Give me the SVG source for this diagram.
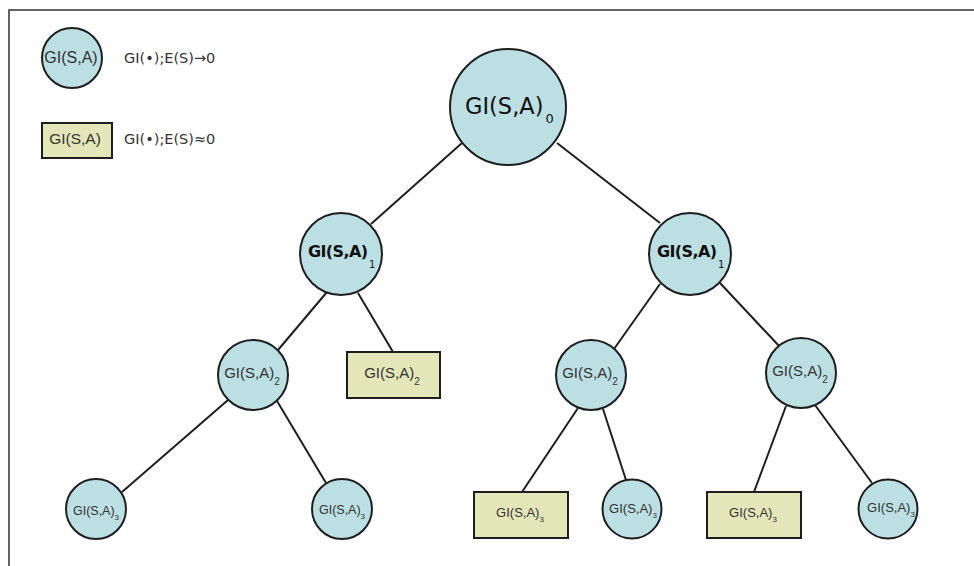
<svg xmlns="http://www.w3.org/2000/svg" width="974" height="566" viewBox="0 0 974 566">
<style>
.c{fill:#bcdfe3;stroke:#1e1e1e;stroke-width:2}
.r{fill:#e3e6b8;stroke:#1e1e1e;stroke-width:2}
.e{stroke:#1e1e1e;stroke-width:2;fill:none}
.t{font-family:"Liberation Sans",Arial,sans-serif;fill:#333;text-anchor:middle}
.d{font-family:"DejaVu Sans",sans-serif;fill:#111}
.l{font-family:"DejaVu Sans",sans-serif;fill:#333;font-size:14.5px}
</style>
<rect width="974" height="566" fill="#fff"/>
<path d="M9,566 V10 H974" stroke="#333" stroke-width="1.5" fill="none"/>
<g id="connectors" class="e">
<line x1="462" y1="143" x2="371" y2="224"/>
<line x1="557" y1="143" x2="660" y2="223"/>
<line x1="327" y1="292" x2="278" y2="350"/>
<line x1="358" y1="293" x2="393" y2="352"/>
<line x1="228" y1="400" x2="122" y2="492"/>
<line x1="277" y1="401" x2="326" y2="483"/>
<line x1="660" y1="284" x2="614" y2="349"/>
<line x1="720" y1="283" x2="780" y2="347"/>
<line x1="578" y1="408" x2="522" y2="492"/>
<line x1="603" y1="409" x2="626" y2="480"/>
<line x1="786" y1="406" x2="754" y2="492"/>
<line x1="815" y1="405" x2="872" y2="483"/>
</g>
<g id="legend-circle">
<circle class="c" cx="72" cy="58" r="30"/>
<text class="t" x="71" y="63" font-size="16">GI(S,A)</text>
<text class="l" x="124" y="63">GI(•);E(S)→0</text>
</g>
<g id="legend-rect">
<rect class="r" x="42" y="123" width="70" height="35"/>
<text class="t" x="75" y="144" font-size="15.5">GI(S,A)</text>
<text class="l" x="124" y="144">GI(•);E(S)≈0</text>
</g>
<g id="n0">
<circle class="c" cx="508" cy="107" r="58"/>
<text class="d" x="465" y="114" font-size="22.5">GI(S,A)<tspan font-size="13" dx="2" dy="9">0</tspan></text>
</g>
<g id="n1a">
<circle class="c" cx="341" cy="254" r="41"/>
<text class="d" x="308" y="257" font-size="16" font-weight="bold" textLength="60">GI(S,A)</text>
<text class="d" x="369" y="268" font-size="10">1</text>
</g>
<g id="n1b">
<circle class="c" cx="690" cy="254" r="41"/>
<text class="d" x="657" y="257" font-size="16" font-weight="bold" textLength="60">GI(S,A)</text>
<text class="d" x="718" y="268" font-size="10">1</text>
</g>
<g id="n2a">
<circle class="c" cx="253" cy="375" r="35"/>
<text class="t" x="252" y="378" font-size="15">GI(S,A)<tspan font-size="10" dy="7">2</tspan></text>
</g>
<g id="n2b">
<rect class="r" x="347" y="352" width="93" height="46"/>
<text class="t" x="392" y="378" font-size="15">GI(S,A)<tspan font-size="10" dy="7">2</tspan></text>
</g>
<g id="n2c">
<circle class="c" cx="591" cy="375" r="35"/>
<text class="t" x="590" y="378" font-size="15">GI(S,A)<tspan font-size="10" dy="7">2</tspan></text>
</g>
<g id="n2d">
<circle class="c" cx="801" cy="373" r="35"/>
<text class="t" x="800" y="376" font-size="15">GI(S,A)<tspan font-size="10" dy="7">2</tspan></text>
</g>
<g id="n3a">
<circle class="c" cx="96" cy="509" r="30"/>
<text class="t" x="96" y="515" font-size="12.5">GI(S,A)<tspan font-size="8" dy="5">3</tspan></text>
</g>
<g id="n3b">
<circle class="c" cx="342" cy="509" r="30"/>
<text class="t" x="342" y="514" font-size="12.5">GI(S,A)<tspan font-size="8" dy="5">3</tspan></text>
</g>
<g id="n3c">
<rect class="r" x="474" y="492" width="94" height="46"/>
<text class="t" x="520" y="517" font-size="13">GI(S,A)<tspan font-size="8" dy="5">3</tspan></text>
</g>
<g id="n3d">
<circle class="c" cx="632" cy="509" r="29.5"/>
<text class="t" x="633" y="513" font-size="13">GI(S,A)<tspan font-size="8" dy="5">3</tspan></text>
</g>
<g id="n3e">
<rect class="r" x="707" y="492" width="94" height="46"/>
<text class="t" x="753" y="517" font-size="13">GI(S,A)<tspan font-size="8" dy="5">3</tspan></text>
</g>
<g id="n3f">
<circle class="c" cx="888" cy="509" r="29.5"/>
<text class="t" x="891" y="512" font-size="13">GI(S,A)<tspan font-size="8" dy="5">3</tspan></text>
</g>
</svg>
